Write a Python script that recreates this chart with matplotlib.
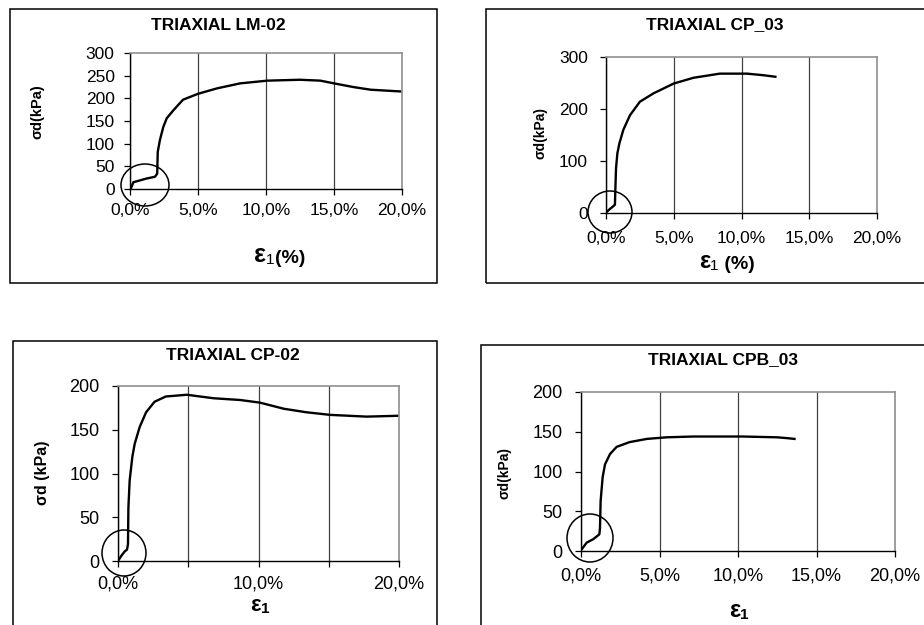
import matplotlib.pyplot as plt
from matplotlib.patches import Ellipse, Rectangle

plt.rcParams['font.family'] = ['Liberation Sans', 'DejaVu Sans']

# values (strain in %, deviator stress in kPa)
lm02_strain = [0.05, 0.25, 0.74, 1.2, 1.84, 2.0, 2.04, 2.2, 2.45, 2.7, 3.2, 3.9, 5.0, 6.4, 8.1,
               10.1, 12.5, 14.0, 15.0, 16.4, 17.7, 20.0]
lm02_stress = [0, 15, 19, 23, 27, 34, 82, 108, 137, 156, 174, 197, 210, 222, 233,
               239, 241, 239, 233, 225, 219, 215]

cp03_strain = [0, 0.3, 0.54, 0.66, 0.69, 0.74, 0.84, 0.99, 1.28, 1.77, 2.5, 3.5, 5.0, 6.45,
               8.4, 10.4, 11.6, 12.5]
cp03_stress = [1, 8, 13, 16, 45, 86, 115, 134, 160, 188, 214, 230, 249, 260,
               268, 268, 265, 262]

cp02_strain = [0, 0.24, 0.48, 0.64, 0.71, 0.74, 0.83, 1.02, 1.19, 1.54, 2.0, 2.6, 3.4, 4.9,
               6.8, 8.7, 10.1, 11.8, 13.4, 15.1, 17.7, 20.0]
cp02_stress = [0, 6, 11, 13, 19, 61, 92, 119, 134, 153, 170, 182, 188, 190,
               186, 184, 181, 174, 170, 167, 165, 166]

cpb03_strain = [0.04, 0.36, 0.79, 1.17, 1.21, 1.25, 1.38, 1.53, 1.85, 2.27, 3.1, 4.2, 5.45,
                7.15, 10.3, 12.5, 13.1, 13.6]
cpb03_stress = [2, 10.5, 15, 21, 29, 63, 93, 109, 122, 131, 137, 141, 143,
                144, 144, 143, 142, 141]

xticks = [0, 5, 10, 15, 20]
xlabels_all = ['0,0%', '5,0%', '10,0%', '15,0%', '20,0%']
xlabels_cp02 = ['0,0%', '', '10,0%', '', '20,0%']

W, H = 924, 625

def fx(x):
    return x / W

def fy(y):
    return 1 - y / H

fig = plt.figure(figsize=(9.24, 6.25), dpi=100)


def panel(box, frame, title, title_xy, strain, stress, ymax, ystep, xlabels,
          ylabel, ylabel_xy, ylabel_size, eps_xy, eps_size, tail, one_bold, circle, ypad, xpad, fs):
    l, t, r, b = box
    ax = fig.add_axes([fx(l), fy(b), (r - l) / W, (b - t) / H])
    ax.plot(strain, stress, color='black', lw=1.7)
    ax.set_xlim(0, 20)
    ax.set_ylim(0, ymax)
    ax.set_xticks(xticks)
    ax.set_xticklabels(xlabels)
    ax.set_yticks(range(0, ymax + 1, ystep))
    ax.grid(axis='x', color='#404040', lw=0.9)
    for s in ['left', 'bottom']:
        ax.spines[s].set_color('black')
        ax.spines[s].set_linewidth(1.0)
    for s in ['top', 'right']:
        ax.spines[s].set_color('#909090')
        ax.spines[s].set_linewidth(1.2)
    ax.tick_params(direction='out', length=4.5, width=0.9, labelsize=fs)
    ax.tick_params(axis='y', pad=ypad)
    ax.tick_params(axis='x', pad=xpad)

    # outer chart frame
    x0, y0, x1, y1 = frame
    fig.add_artist(Rectangle((fx(x0), fy(y1)), (x1 - x0) / W, (y1 - y0) / H,
                             transform=fig.transFigure, fill=False, ec='black', lw=1.1))

    fig.text(fx(title_xy[0]), fy(title_xy[1]), title, ha='center', va='center',
             fontsize=12.5, fontweight='bold')
    fig.text(fx(ylabel_xy[0]), fy(ylabel_xy[1]), ylabel, rotation=90, ha='center',
             va='center', fontsize=ylabel_size, fontweight='bold')

    # x label: bold epsilon with small 1, placed on its baseline
    e = fig.text(fx(eps_xy[0]), fy(eps_xy[1]), 'ε', ha='left', va='baseline',
                 fontsize=eps_size, fontweight='bold')
    one = ax.annotate('1', xy=(1, 0), xycoords=e, ha='left', va='bottom', fontsize=11,
                      fontweight='bold' if one_bold else 'normal', annotation_clip=False)
    if tail:
        ax.annotate(tail, xy=(1, 0), xycoords=one, ha='left', va='bottom', fontsize=14,
                    fontweight='bold', annotation_clip=False)

    cx, cy, rx, ry = circle
    fig.add_artist(Ellipse((fx(cx), fy(cy)), 2 * rx / W, 2 * ry / H,
                           transform=fig.transFigure, fill=False, ec='black', lw=1.1))
    return ax


panel((130, 53, 402, 189), (10, 9, 437, 283), 'TRIAXIAL LM-02', (218, 25),
      lm02_strain, lm02_stress, 300, 50, xlabels_all,
      'σd(kPa)', (37, 112), 10.5, (254, 262), 18, '(%)', False, (145, 185, 24, 21), 6.5, 5.5, 12.5)

panel((606, 57, 877, 213), (486, 9, 960, 283), 'TRIAXIAL CP_03', (715, 25),
      cp03_strain, cp03_stress, 300, 100, xlabels_all,
      'σd(kPa)', (541, 133), 10, (699, 268), 17, ' (%)', False, (610, 212, 22, 21), 8.6, 8.5, 12.5)

panel((118, 386, 399, 561), (13, 341, 437, 700), 'TRIAXIAL CP-02', (233, 356),
      cp02_strain, cp02_stress, 200, 50, xlabels_cp02,
      'σd (kPa)', (42, 473), 11.5, (250, 611), 16, '', True, (124, 553, 22, 23), 8.6, 6, 13)

panel((581, 392, 895, 551), (481, 345, 960, 700), 'TRIAXIAL CPB_03', (723, 360),
      cpb03_strain, cpb03_stress, 200, 50, xlabels_all,
      'σd(kPa)', (505, 473), 10, (729, 617), 17, '', True, (590, 538, 23, 24), 8.6, 7.5, 13)

fig.savefig('out.png', dpi=100)
